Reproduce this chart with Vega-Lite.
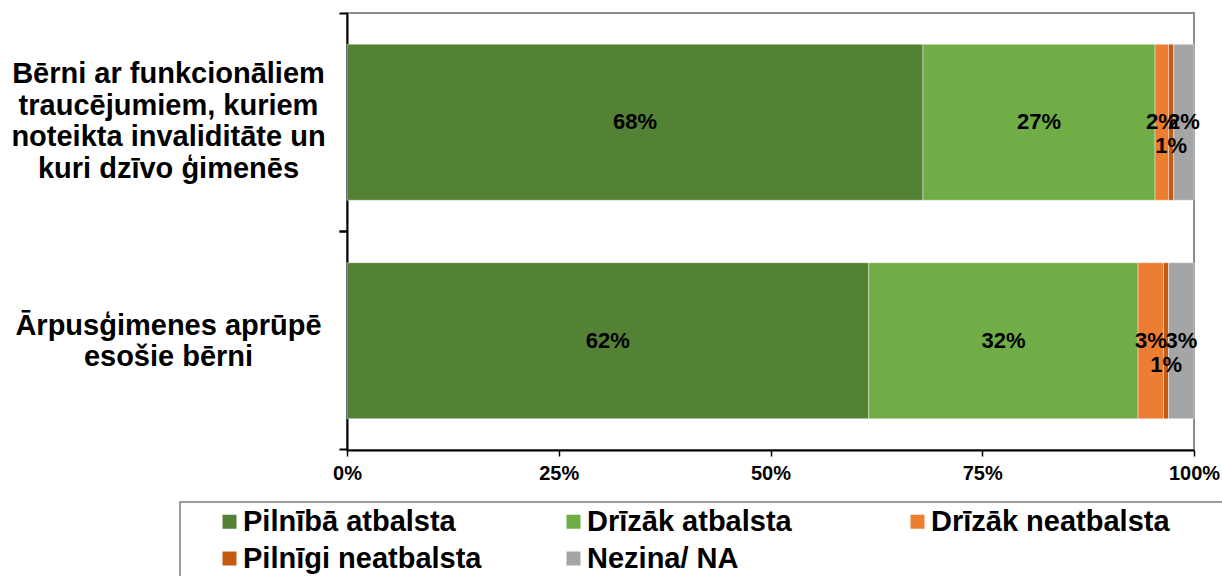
{
  "$schema": "https://vega.github.io/schema/vega-lite/v6.json",
  "autosize": {"type": "none"},
  "padding": {"left": 347, "top": 13, "right": 28, "bottom": 126},
  "width": 847,
  "height": 437,
  "background": "white",
  "config": {
    "font": "Liberation Sans",
    "view": {"stroke": "#8c8c8c", "strokeWidth": 2},
    "legend": {"strokeWidth": 1.5}
  },
  "data": {
    "values": [
      {"group": "Bērni ar funkcionāliem\ntraucējumiem, kuriem\nnoteikta invaliditāte un\nkuri dzīvo ģimenēs", "answer": "Pilnībā atbalsta", "k": 1, "share": 0.680},
      {"group": "Bērni ar funkcionāliem\ntraucējumiem, kuriem\nnoteikta invaliditāte un\nkuri dzīvo ģimenēs", "answer": "Drīzāk atbalsta", "k": 2, "share": 0.274},
      {"group": "Bērni ar funkcionāliem\ntraucējumiem, kuriem\nnoteikta invaliditāte un\nkuri dzīvo ģimenēs", "answer": "Drīzāk neatbalsta", "k": 3, "share": 0.016},
      {"group": "Bērni ar funkcionāliem\ntraucējumiem, kuriem\nnoteikta invaliditāte un\nkuri dzīvo ģimenēs", "answer": "Pilnīgi neatbalsta", "k": 4, "share": 0.006},
      {"group": "Bērni ar funkcionāliem\ntraucējumiem, kuriem\nnoteikta invaliditāte un\nkuri dzīvo ģimenēs", "answer": "Nezina/ NA", "k": 5, "share": 0.024},
      {"group": "Ārpusģimenes aprūpē\nesošie bērni", "answer": "Pilnībā atbalsta", "k": 1, "share": 0.616},
      {"group": "Ārpusģimenes aprūpē\nesošie bērni", "answer": "Drīzāk atbalsta", "k": 2, "share": 0.318},
      {"group": "Ārpusģimenes aprūpē\nesošie bērni", "answer": "Drīzāk neatbalsta", "k": 3, "share": 0.030},
      {"group": "Ārpusģimenes aprūpē\nesošie bērni", "answer": "Pilnīgi neatbalsta", "k": 4, "share": 0.006},
      {"group": "Ārpusģimenes aprūpē\nesošie bērni", "answer": "Nezina/ NA", "k": 5, "share": 0.030}
    ]
  },
  "encoding": {
    "order": {"field": "k", "type": "quantitative"}
  },
  "layer": [
    {
      "mark": {"type": "bar", "stroke": "#ffffff", "strokeWidth": 0.6, "strokeOpacity": 0.7},
      "encoding": {
        "y": {
          "field": "group",
          "type": "nominal",
          "sort": null,
          "title": null,
          "scale": {"paddingInner": 0.286, "paddingOuter": 0.143},
          "axis": {
            "orient": "left",
            "bandPosition": 1.2,
            "ticks": true,
            "tickSize": 8,
            "tickWidth": 2,
            "tickColor": "#000000",
            "domain": true,
            "domainColor": "#000000",
            "domainWidth": 2,
            "grid": false,
            "labelExpr": "split(datum.label, '\\n')",
            "labelFontSize": 29,
            "labelFontWeight": "bold",
            "labelColor": "#000000",
            "labelAlign": "center",
            "labelBaseline": "middle",
            "labelLineHeight": 31.5,
            "labelPadding": 171,
            "labelLimit": 400,
            "labelOffset": {
              "condition": {"test": "indexof(datum.value, 'traucējumiem') >= 0", "value": -48},
              "value": -15
            }
          }
        },
        "x": {
          "field": "share",
          "type": "quantitative",
          "stack": "zero",
          "title": null,
          "scale": {"domain": [0, 1]},
          "axis": {
            "values": [0, 0.25, 0.5, 0.75, 1],
            "format": ".0%",
            "grid": false,
            "labelFlush": false,
            "labelFontSize": 20,
            "labelFontWeight": "bold",
            "labelColor": "#000000",
            "labelPadding": 7,
            "domainColor": "#000000",
            "domainWidth": 2,
            "tickColor": "#000000",
            "tickWidth": 1.5,
            "tickSize": 6
          }
        },
        "color": {
          "field": "answer",
          "type": "nominal",
          "scale": {
            "domain": ["Pilnībā atbalsta", "Drīzāk atbalsta", "Drīzāk neatbalsta", "Pilnīgi neatbalsta", "Nezina/ NA"],
            "range": ["#548235", "#70AD47", "#ED7D31", "#C55A11", "#A5A5A5"]
          },
          "legend": {
            "orient": "none",
            "legendX": -167,
            "legendY": 489,
            "direction": "horizontal",
            "columns": 3,
            "gridAlign": "all",
            "columnPadding": 47,
            "rowPadding": 7,
            "padding": 5,
            "strokeColor": "#7f7f7f",
            "fillColor": "#ffffff",
            "symbolType": "square",
            "symbolSize": 196,
            "symbolStrokeWidth": 0,
            "symbolOffset": 30,
            "labelFontSize": 29,
            "labelFontWeight": "bold",
            "labelColor": "#000000",
            "labelOffset": -1,
            "labelLimit": 600,
            "title": " ",
            "titleOrient": "right",
            "titleFontSize": 8,
            "titlePadding": 80
          }
        }
      }
    },
    {
      "mark": {
        "type": "text",
        "fontSize": 22,
        "fontWeight": "bold",
        "color": "#000000",
        "baseline": "middle",
        "align": "center",
        "dy": {"expr": "datum.answer === 'Pilnīgi neatbalsta' ? 24 : 0"}
      },
      "encoding": {
        "y": {
          "field": "group",
          "type": "nominal",
          "sort": null,
          "title": null,
          "axis": {
            "orient": "left",
            "bandPosition": -0.2,
            "labels": false,
            "domain": false,
            "grid": false,
            "ticks": true,
            "tickSize": 8,
            "tickWidth": 2,
            "tickColor": "#000000"
          }
        },
        "x": {"field": "share", "type": "quantitative", "stack": "zero", "bandPosition": 0.5},
        "detail": {"field": "answer", "type": "nominal"},
        "text": {"field": "share", "type": "quantitative", "format": ".0%"}
      }
    }
  ],
  "resolve": {"axis": {"y": "independent"}}
}
